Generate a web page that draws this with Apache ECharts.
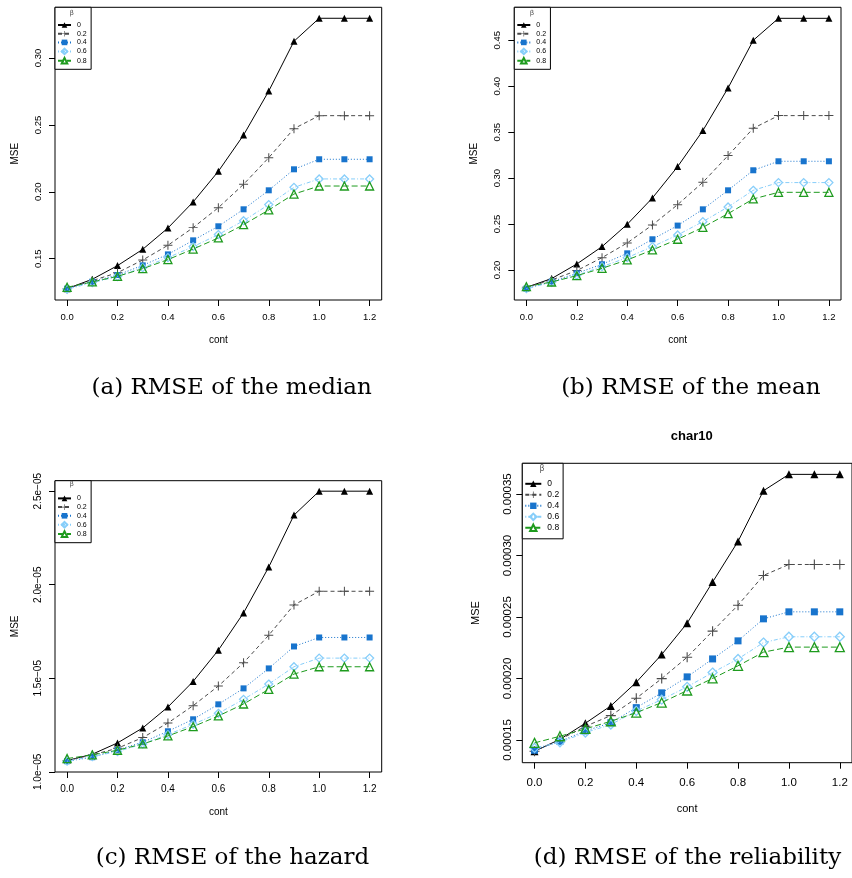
<!DOCTYPE html>
<html><head><meta charset="utf-8">
<script src="https://cdn.jsdelivr.net/npm/echarts@6/dist/echarts.min.js"></script>
<style>html,body{margin:0;padding:0;background:#fff}#c{width:852px;height:878px}</style>
</head><body><div id="c"></div>
<script>
// ---------- data ----------
const cont = [0.0, 0.1, 0.2, 0.3, 0.4, 0.5, 0.6, 0.7, 0.8, 0.9, 1.0, 1.1, 1.2];
const betas = ['0', '0.2', '0.4', '0.6', '0.8'];
const xTickVals = [0.0, 0.2, 0.4, 0.6, 0.8, 1.0, 1.2];
const xTickLabels = ['0.0', '0.2', '0.4', '0.6', '0.8', '1.0', '1.2'];

// (a) RMSE of the median
const medB0 = [0.1276, 0.1346, 0.1448, 0.1570, 0.1729, 0.1924, 0.2153, 0.2424, 0.2753, 0.3125, 0.3297, 0.3297, 0.3297];
const medB2 = [0.1276, 0.1336, 0.1395, 0.1490, 0.1600, 0.1732, 0.1881, 0.2056, 0.2255, 0.2472, 0.2569, 0.2569, 0.2569];
const medB4 = [0.1276, 0.1328, 0.1378, 0.1450, 0.1532, 0.1637, 0.1742, 0.1869, 0.2011, 0.2168, 0.2243, 0.2243, 0.2243];
const medB6 = [0.1271, 0.1321, 0.1366, 0.1433, 0.1508, 0.1590, 0.1680, 0.1784, 0.1904, 0.2033, 0.2096, 0.2096, 0.2096];
const medB8 = [0.1286, 0.1326, 0.1368, 0.1425, 0.1493, 0.1572, 0.1655, 0.1754, 0.1864, 0.1983, 0.2043, 0.2043, 0.2043];
const medTickVals = [0.15, 0.20, 0.25, 0.30];
const medTickLabels = ['0.15', '0.20', '0.25', '0.30'];

// (b) RMSE of the mean
const meanB0 = [0.1811, 0.1906, 0.2065, 0.2254, 0.2497, 0.2784, 0.3125, 0.3517, 0.3981, 0.4500, 0.4739, 0.4739, 0.4739];
const meanB2 = [0.1811, 0.1891, 0.1993, 0.2134, 0.2294, 0.2490, 0.2711, 0.2954, 0.3245, 0.3542, 0.3680, 0.3680, 0.3680];
const meanB4 = [0.1797, 0.1873, 0.1964, 0.2062, 0.2181, 0.2334, 0.2483, 0.2660, 0.2867, 0.3085, 0.3183, 0.3183, 0.3183];
const meanB6 = [0.1797, 0.1866, 0.1942, 0.2036, 0.2134, 0.2254, 0.2381, 0.2526, 0.2686, 0.2867, 0.2951, 0.2951, 0.2951];
const meanB8 = [0.1818, 0.1869, 0.1938, 0.2018, 0.2109, 0.2218, 0.2334, 0.2464, 0.2613, 0.2773, 0.2845, 0.2845, 0.2845];
const meanTickVals = [0.20, 0.25, 0.30, 0.35, 0.40, 0.45];
const meanTickLabels = ['0.20', '0.25', '0.30', '0.35', '0.40', '0.45'];

// (c) RMSE of the hazard
const hazB0 = [1.0603e-5, 1.0940e-5, 1.1545e-5, 1.2345e-5, 1.3464e-5, 1.4833e-5, 1.6504e-5, 1.8495e-5, 2.0947e-5, 2.3720e-5, 2.5000e-5, 2.5000e-5, 2.5000e-5];
const hazB2 = [1.0603e-5, 1.0905e-5, 1.1260e-5, 1.1830e-5, 1.2611e-5, 1.3536e-5, 1.4584e-5, 1.5828e-5, 1.7304e-5, 1.8921e-5, 1.9650e-5, 1.9650e-5, 1.9650e-5];
const hazB4 = [1.0567e-5, 1.0780e-5, 1.1171e-5, 1.1580e-5, 1.2167e-5, 1.2807e-5, 1.3607e-5, 1.4460e-5, 1.5527e-5, 1.6700e-5, 1.7180e-5, 1.7180e-5, 1.7180e-5];
const hazB6 = [1.0567e-5, 1.0816e-5, 1.1083e-5, 1.1491e-5, 1.1989e-5, 1.2540e-5, 1.3127e-5, 1.3873e-5, 1.4690e-5, 1.5615e-5, 1.6077e-5, 1.6077e-5, 1.6077e-5];
const hazB8 = [1.0709e-5, 1.0905e-5, 1.1153e-5, 1.1491e-5, 1.1918e-5, 1.2416e-5, 1.2985e-5, 1.3625e-5, 1.4407e-5, 1.5225e-5, 1.5615e-5, 1.5615e-5, 1.5615e-5];
const hazTickVals = [1.0e-5, 1.5e-5, 2.0e-5, 2.5e-5];
const hazTickLabels = ['1.0e\u221205', '1.5e\u221205', '2.0e\u221205', '2.5e\u221205'];

// (d) RMSE of the reliability
const relB0 = [0.0001408, 0.0001505, 0.0001636, 0.0001777, 0.0001969, 0.0002195, 0.0002450, 0.0002784, 0.0003115, 0.0003527, 0.0003660, 0.0003660, 0.0003660];
const relB2 = [0.0001408, 0.0001503, 0.0001611, 0.0001698, 0.0001839, 0.0001999, 0.0002173, 0.0002385, 0.0002596, 0.0002838, 0.0002927, 0.0002927, 0.0002927];
const relB4 = [0.0001416, 0.0001489, 0.0001573, 0.0001640, 0.0001763, 0.0001883, 0.0002013, 0.0002159, 0.0002306, 0.0002485, 0.0002542, 0.0002542, 0.0002542];
const relB6 = [0.0001435, 0.0001481, 0.0001560, 0.0001625, 0.0001736, 0.0001828, 0.0001932, 0.0002048, 0.0002159, 0.0002292, 0.0002339, 0.0002339, 0.0002339];
const relB8 = [0.0001476, 0.0001530, 0.0001590, 0.0001652, 0.0001722, 0.0001804, 0.0001902, 0.0002000, 0.0002103, 0.0002214, 0.0002255, 0.0002255, 0.0002255];
const relTickVals = [0.00015, 0.00020, 0.00025, 0.00030, 0.00035];
const relTickLabels = ['0.00015', '0.00020', '0.00025', '0.00030', '0.00035'];

const captions = ['(a) RMSE of the median', '(b) RMSE of the mean', '(c) RMSE of the hazard', '(d) RMSE of the reliability'];
const panelTitleD = 'char10';
const yName = 'MSE';
const xName = 'cont';
const legendTitle = '\u03b2';

// ---------- styling / layout ----------
const plusPath = 'path://M4.45,0H5.55V10H4.45Z M0,4.45H10V5.55H0Z';
const styles = [
  { color: '#000000', type: 'solid',        symbol: 'triangle', size: 7, open: false },
  { color: '#4a4a4a', type: [4, 3],         symbol: plusPath,   size: 9, open: false },
  { color: '#1874CD', type: [1, 2],         symbol: 'rect',     size: 6, open: false },
  { color: '#87CEFA', type: [1, 2, 4, 2],   symbol: 'diamond',  size: 8, open: true },
  { color: '#1E9B1E', type: [6, 3],         symbol: 'triangle', size: 8, open: true }
];

const FONT = 'Liberation Sans';
const panels = [
  { series: [medB0, medB2, medB4, medB6, medB8], yMin: 0.1191, yMax: 0.3379,
    tv: medTickVals, tl: medTickLabels,
    grid: { left: 55, top: 7.3, width: 326.7, height: 292.7 },
    fs: 9.5, nfs: 10, xm: 12, ym: 12, xng: 35, yng: 35, big: false,
    beta: [71.7, 12.7], cap: [231.7, 388] },
  { series: [meanB0, meanB2, meanB4, meanB6, meanB8], yMin: 0.1673, yMax: 0.4859,
    tv: meanTickVals, tl: meanTickLabels,
    grid: { left: 514.3, top: 7.3, width: 326.7, height: 292.7 },
    fs: 9.5, nfs: 10, xm: 12, ym: 12, xng: 35, yng: 35, big: false,
    beta: [532, 12.7], cap: [690.8, 388] },
  { series: [hazB0, hazB2, hazB4, hazB6, hazB8], yMin: 0.999e-5, yMax: 2.556e-5,
    tv: hazTickVals, tl: hazTickLabels,
    grid: { left: 55, top: 480.7, width: 326.7, height: 291.3 },
    fs: 10, nfs: 10, xm: 12, ym: 12, xng: 35, yng: 35, big: false,
    beta: [71.7, 484], cap: [232.5, 858] },
  { series: [relB0, relB2, relB4, relB6, relB8], yMin: 0.0001315, yMax: 0.000375,
    tv: relTickVals, tl: relTickLabels,
    grid: { left: 522.3, top: 463.3, width: 339.7, height: 299.4 },
    fs: 11.5, nfs: 11, xm: 14, ym: 8, xng: 41, yng: 41, big: true,
    beta: [542, 469.3], cap: [687.5, 858] }
];

const option = { animation: false, backgroundColor: '#fff', grid: [], xAxis: [], yAxis: [], series: [], legend: [], title: [] };

panels.forEach((p, pi) => {
  option.grid.push(Object.assign({ show: true, borderColor: '#000', borderWidth: 1, backgroundColor: 'transparent' }, p.grid));
  option.xAxis.push({
    type: 'value', gridIndex: pi, min: -0.048, max: 1.248, position: 'bottom',
    name: xName, nameLocation: 'middle', nameGap: p.xng,
    nameTextStyle: { fontFamily: FONT, fontSize: p.nfs, color: '#000' },
    axisLine: { show: false, onZero: false },
    axisTick: { show: true, length: 6, inside: false, customValues: xTickVals, lineStyle: { color: '#000', width: 1 } },
    axisLabel: { customValues: xTickVals, margin: p.xm, fontFamily: FONT, fontSize: p.fs, color: '#000',
      formatter: v => { const i = xTickVals.findIndex(t => Math.abs(t - v) < 1e-9); return i >= 0 ? xTickLabels[i] : ''; } },
    splitLine: { show: false }
  });
  option.yAxis.push({
    type: 'value', gridIndex: pi, min: p.yMin, max: p.yMax, position: 'left',
    name: yName, nameLocation: 'middle', nameGap: p.yng, nameRotate: 90,
    nameTextStyle: { fontFamily: FONT, fontSize: p.nfs, color: '#000' },
    axisLine: { show: false, onZero: false },
    axisTick: { show: true, length: 6, inside: false, customValues: p.tv, lineStyle: { color: '#000', width: 1 } },
    axisLabel: { customValues: p.tv, rotate: 90, margin: p.ym, fontFamily: FONT, fontSize: p.fs, color: '#000',
      formatter: v => { const i = p.tv.findIndex(t => Math.abs(t - v) < Math.abs(t) * 1e-6); return i >= 0 ? p.tl[i] : ''; } },
    splitLine: { show: false }
  });
  p.series.forEach((vals, si) => {
    const st = styles[si];
    option.series.push({
      type: 'line', name: betas[si], xAxisIndex: pi, yAxisIndex: pi,
      data: cont.map((x, i) => [x, vals[i]]),
      symbol: st.symbol, symbolSize: p.big ? st.size + 1 : st.size, showAllSymbol: true,
      lineStyle: { color: st.color, width: 1, type: st.type },
      itemStyle: st.open ? { color: 'rgba(255,255,255,0)', borderColor: st.color, borderWidth: 1.3 }
                         : { color: st.color, borderWidth: 0 },
      emphasis: { disabled: true }, silent: true, z: 2 + si
    });
  });
  const lg = p.big
    ? { itemWidth: 16, itemHeight: 8, itemGap: 2, fontSize: 8.5, padding: [16, 4, 6.5, 2] }
    : { itemWidth: 13, itemHeight: 7, itemGap: 1.7, fontSize: 7, padding: [14.2, 4.4, 4.8, 2] };
  option.legend.push({
    data: betas, orient: 'vertical', left: p.grid.left, top: p.grid.top,
    itemWidth: lg.itemWidth, itemHeight: lg.itemHeight, itemGap: lg.itemGap,
    padding: lg.padding, borderColor: '#000', borderWidth: 1, backgroundColor: '#fff',
    selectedMode: false, z: 10,
    textStyle: { fontFamily: FONT, fontSize: lg.fontSize, color: '#000', lineHeight: lg.itemHeight, padding: [0, 0, 0, 1] }
  });
  option.title.push({
    text: legendTitle, left: p.beta[0], top: p.beta[1], textAlign: 'center', textVerticalAlign: 'middle', padding: 0, z: 11,
    textStyle: { fontFamily: 'DejaVu Sans', fontSize: p.big ? 8 : 7, fontWeight: 'normal', color: '#555' }
  });
  option.title.push({
    text: captions[pi], left: p.cap[0], top: p.cap[1], textAlign: 'center', textVerticalAlign: 'middle', padding: 0,
    textStyle: { fontFamily: 'DejaVu Serif', fontSize: 23, fontWeight: 'normal', color: '#000' }
  });
});
option.title.push({
  text: panelTitleD, left: 691.7, top: 436.7, textAlign: 'center', textVerticalAlign: 'middle', padding: 0,
  textStyle: { fontFamily: FONT, fontSize: 13, fontWeight: 'bold', color: '#000' }
});

const chart = echarts.init(document.getElementById('c'), null, { renderer: 'canvas' });
chart.setOption(option);
</script>
</body></html>
